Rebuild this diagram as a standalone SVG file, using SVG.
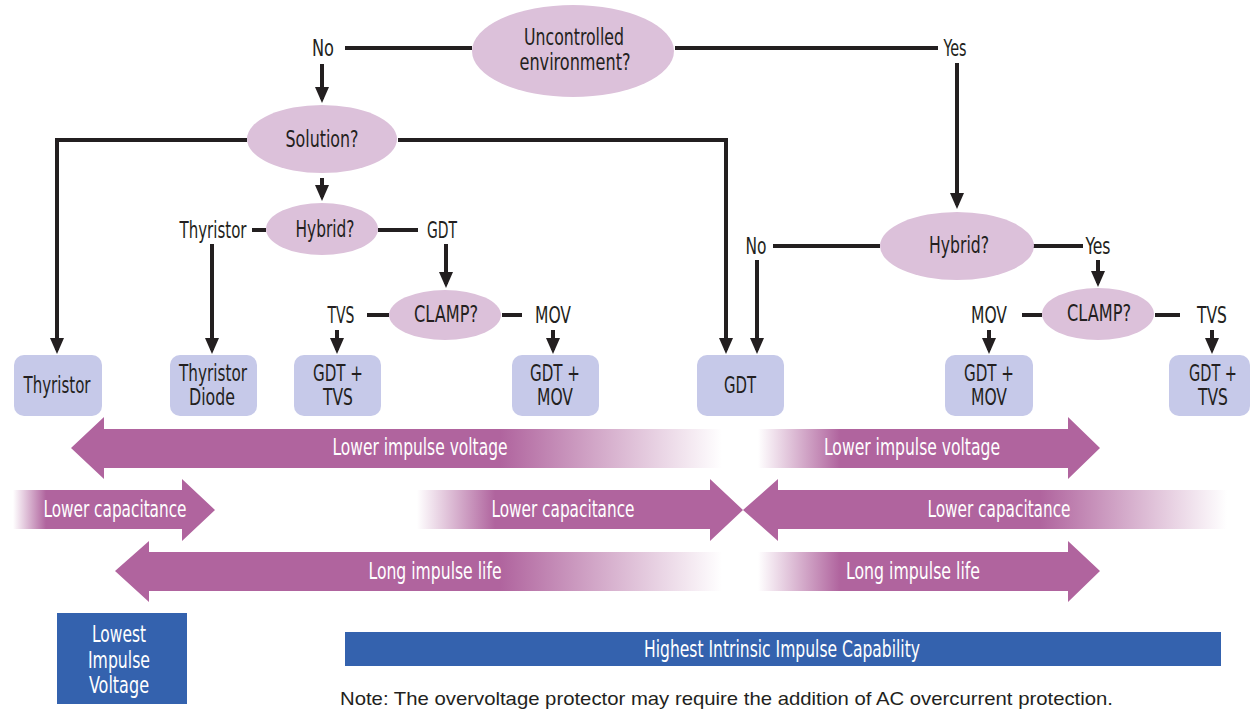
<svg xmlns="http://www.w3.org/2000/svg" width="1254" height="711" viewBox="0 0 1254 711">
<style>
.t{font-family:"Liberation Sans Narrow","DejaVu Sans Condensed","Roboto Condensed","Liberation Sans",sans-serif;font-stretch:condensed;font-size:23px;fill:#231f20;text-anchor:middle;dominant-baseline:central}
.w{fill:#ffffff}
.el{fill:#dcc1da}
.bx{fill:#c6c9e9}
.ln{stroke:#231f20;stroke-width:4;fill:none}
.blue{fill:#3462ae}
</style>
<defs>
<marker id="ah" markerUnits="userSpaceOnUse" markerWidth="16" markerHeight="14" refX="12" refY="7" orient="auto" viewBox="0 0 16 14">
<path d="M0,0 L16,7 L0,14 Z" fill="#231f20"/>
</marker>
<linearGradient id="gL1" gradientUnits="userSpaceOnUse" x1="500" y1="0" x2="722" y2="0"><stop offset="0" stop-color="#b0649e"/><stop offset="1" stop-color="#b0649e" stop-opacity="0"/></linearGradient>
<linearGradient id="gR1" gradientUnits="userSpaceOnUse" x1="758" y1="0" x2="840" y2="0"><stop offset="0" stop-color="#b0649e" stop-opacity="0"/><stop offset="1" stop-color="#b0649e"/></linearGradient>
<linearGradient id="gC1" gradientUnits="userSpaceOnUse" x1="13" y1="0" x2="46" y2="0"><stop offset="0" stop-color="#b0649e" stop-opacity="0"/><stop offset="1" stop-color="#b0649e"/></linearGradient>
<linearGradient id="gC2" gradientUnits="userSpaceOnUse" x1="417" y1="0" x2="495" y2="0"><stop offset="0" stop-color="#b0649e" stop-opacity="0"/><stop offset="1" stop-color="#b0649e"/></linearGradient>
<linearGradient id="gC3" gradientUnits="userSpaceOnUse" x1="1040" y1="0" x2="1227" y2="0"><stop offset="0" stop-color="#b0649e"/><stop offset="1" stop-color="#b0649e" stop-opacity="0"/></linearGradient>
</defs>
<rect width="1254" height="711" fill="#ffffff"/>

<g id="connectors">
<path class="ln" d="M345,48 H472"/>
<path class="ln" d="M675,48 H938"/>
<path class="ln" d="M322,64 V99" marker-end="url(#ah)"/>
<path class="ln" d="M247,140 H57 V350" marker-end="url(#ah)"/>
<path class="ln" d="M398,140 H726 V350" marker-end="url(#ah)"/>
<path class="ln" d="M322,178 V197" marker-end="url(#ah)"/>
<path class="ln" d="M252,230 H266"/>
<path class="ln" d="M378,230 H418"/>
<path class="ln" d="M212,244 V350" marker-end="url(#ah)"/>
<path class="ln" d="M446,244 V284" marker-end="url(#ah)"/>
<path class="ln" d="M367,315 H389"/>
<path class="ln" d="M502,315 H522"/>
<path class="ln" d="M337,330 V350" marker-end="url(#ah)"/>
<path class="ln" d="M553,330 V350" marker-end="url(#ah)"/>
<path class="ln" d="M957,63 V205" marker-end="url(#ah)"/>
<path class="ln" d="M773,246 H880"/>
<path class="ln" d="M757,260 V350" marker-end="url(#ah)"/>
<path class="ln" d="M1033,246 H1083"/>
<path class="ln" d="M1098,260 V283" marker-end="url(#ah)"/>
<path class="ln" d="M1022,315 H1042"/>
<path class="ln" d="M1155,315 H1180"/>
<path class="ln" d="M989,330 V350" marker-end="url(#ah)"/>
<path class="ln" d="M1212,330 V350" marker-end="url(#ah)"/>
</g>

<g id="labels">
<text class="t" x="323" y="48" textLength="22" lengthAdjust="spacingAndGlyphs">No</text>
<text class="t" x="955" y="48" textLength="23" lengthAdjust="spacingAndGlyphs">Yes</text>
<text class="t" x="213" y="230" textLength="67" lengthAdjust="spacingAndGlyphs">Thyristor</text>
<text class="t" x="442" y="230" textLength="30" lengthAdjust="spacingAndGlyphs">GDT</text>
<text class="t" x="341" y="315" textLength="27" lengthAdjust="spacingAndGlyphs">TVS</text>
<text class="t" x="553" y="315" textLength="36" lengthAdjust="spacingAndGlyphs">MOV</text>
<text class="t" x="756" y="246" textLength="21" lengthAdjust="spacingAndGlyphs">No</text>
<text class="t" x="1098" y="246" textLength="25" lengthAdjust="spacingAndGlyphs">Yes</text>
<text class="t" x="989" y="315" textLength="36" lengthAdjust="spacingAndGlyphs">MOV</text>
<text class="t" x="1212" y="315" textLength="30" lengthAdjust="spacingAndGlyphs">TVS</text>
</g>

<g id="n-uncontrolled"><ellipse class="el" cx="573" cy="51" rx="101" ry="46"/><text class="t" x="574" y="37" textLength="100" lengthAdjust="spacingAndGlyphs">Uncontrolled</text><text class="t" x="575" y="62" textLength="111" lengthAdjust="spacingAndGlyphs">environment?</text></g>
<g id="n-solution"><ellipse class="el" cx="322" cy="139" rx="75" ry="34"/><text class="t" x="322" y="139" textLength="73" lengthAdjust="spacingAndGlyphs">Solution?</text></g>
<g id="n-hybrid1"><ellipse class="el" cx="322" cy="229" rx="56" ry="26"/><text class="t" x="325" y="229" textLength="59" lengthAdjust="spacingAndGlyphs">Hybrid?</text></g>
<g id="n-clamp1"><ellipse class="el" cx="445" cy="315" rx="56" ry="25"/><text class="t" x="446" y="314" textLength="64" lengthAdjust="spacingAndGlyphs">CLAMP?</text></g>
<g id="n-hybrid2"><ellipse class="el" cx="957" cy="246" rx="77" ry="34"/><text class="t" x="959" y="245" textLength="60" lengthAdjust="spacingAndGlyphs">Hybrid?</text></g>
<g id="n-clamp2"><ellipse class="el" cx="1098" cy="314" rx="56" ry="26"/><text class="t" x="1099" y="313" textLength="64" lengthAdjust="spacingAndGlyphs">CLAMP?</text></g>

<g id="b-thyristor"><rect class="bx" x="14" y="355" width="88" height="61" rx="10"/><text class="t" x="57" y="385" textLength="67" lengthAdjust="spacingAndGlyphs">Thyristor</text></g>
<g id="b-thydiode"><rect class="bx" x="170" y="355" width="87" height="61" rx="10"/><text class="t" x="213" y="373" textLength="68" lengthAdjust="spacingAndGlyphs">Thyristor</text><text class="t" x="212" y="397" textLength="46" lengthAdjust="spacingAndGlyphs">Diode</text></g>
<g id="b-gdttvs1"><rect class="bx" x="294" y="355" width="87" height="61" rx="10"/><text class="t" x="338" y="373" textLength="50" lengthAdjust="spacingAndGlyphs">GDT +</text><text class="t" x="338" y="397" textLength="30" lengthAdjust="spacingAndGlyphs">TVS</text></g>
<g id="b-gdtmov1"><rect class="bx" x="512" y="355" width="87" height="61" rx="10"/><text class="t" x="555" y="373" textLength="50" lengthAdjust="spacingAndGlyphs">GDT +</text><text class="t" x="555" y="397" textLength="36" lengthAdjust="spacingAndGlyphs">MOV</text></g>
<g id="b-gdt"><rect class="bx" x="697" y="355" width="87" height="61" rx="10"/><text class="t" x="740" y="385" textLength="32" lengthAdjust="spacingAndGlyphs">GDT</text></g>
<g id="b-gdtmov2"><rect class="bx" x="945" y="355" width="88" height="61" rx="10"/><text class="t" x="989" y="373" textLength="50" lengthAdjust="spacingAndGlyphs">GDT +</text><text class="t" x="989" y="397" textLength="36" lengthAdjust="spacingAndGlyphs">MOV</text></g>
<g id="b-gdttvs2"><rect class="bx" x="1169" y="355" width="81" height="61" rx="10"/><text class="t" x="1213" y="373" textLength="48" lengthAdjust="spacingAndGlyphs">GDT +</text><text class="t" x="1213" y="397" textLength="30" lengthAdjust="spacingAndGlyphs">TVS</text></g>

<g id="bands">
<polygon fill="url(#gL1)" points="71,448 104,417 104,429 722,429 722,468 104,468 104,479"/>
<text class="t w" x="420" y="447" textLength="175" lengthAdjust="spacingAndGlyphs">Lower impulse voltage</text>
<polygon fill="url(#gR1)" points="758,429 1068,429 1068,417 1100,448 1068,479 1068,468 758,468"/>
<text class="t w" x="912" y="447" textLength="176" lengthAdjust="spacingAndGlyphs">Lower impulse voltage</text>
<polygon fill="url(#gC1)" points="13,490 182,490 182,479 215,510 182,541 182,529 13,529"/>
<text class="t w" x="115" y="509" textLength="143" lengthAdjust="spacingAndGlyphs">Lower capacitance</text>
<polygon fill="url(#gC2)" points="417,490 710,490 710,479 743,510 710,541 710,529 417,529"/>
<text class="t w" x="563" y="509" textLength="143" lengthAdjust="spacingAndGlyphs">Lower capacitance</text>
<polygon fill="url(#gC3)" points="743,510 778,479 778,490 1227,490 1227,529 778,529 778,541"/>
<text class="t w" x="999" y="509" textLength="143" lengthAdjust="spacingAndGlyphs">Lower capacitance</text>
<polygon fill="url(#gL1)" points="115,571 149,541 149,552 722,552 722,591 149,591 149,602"/>
<text class="t w" x="435" y="571" textLength="133" lengthAdjust="spacingAndGlyphs">Long impulse life</text>
<polygon fill="url(#gR1)" points="758,552 1068,552 1068,541 1100,571 1068,602 1068,591 758,591"/>
<text class="t w" x="913" y="571" textLength="134" lengthAdjust="spacingAndGlyphs">Long impulse life</text>
</g>

<g id="lowest"><rect class="blue" x="57" y="613" width="130" height="91"/><text class="t w" x="119" y="634" textLength="54" lengthAdjust="spacingAndGlyphs">Lowest</text><text class="t w" x="119" y="660" textLength="62" lengthAdjust="spacingAndGlyphs">Impulse</text><text class="t w" x="119" y="685" textLength="60" lengthAdjust="spacingAndGlyphs">Voltage</text></g>
<g id="highest"><rect class="blue" x="345" y="632" width="876" height="34"/><text class="t w" x="782" y="649" textLength="276" lengthAdjust="spacingAndGlyphs">Highest Intrinsic Impulse Capability</text></g>
<text x="340" y="705" font-family="'Liberation Sans','Open Sans',sans-serif" font-size="19" fill="#231f20" textLength="773" lengthAdjust="spacingAndGlyphs">Note: The overvoltage protector may require the addition of AC overcurrent protection.</text>
</svg>
